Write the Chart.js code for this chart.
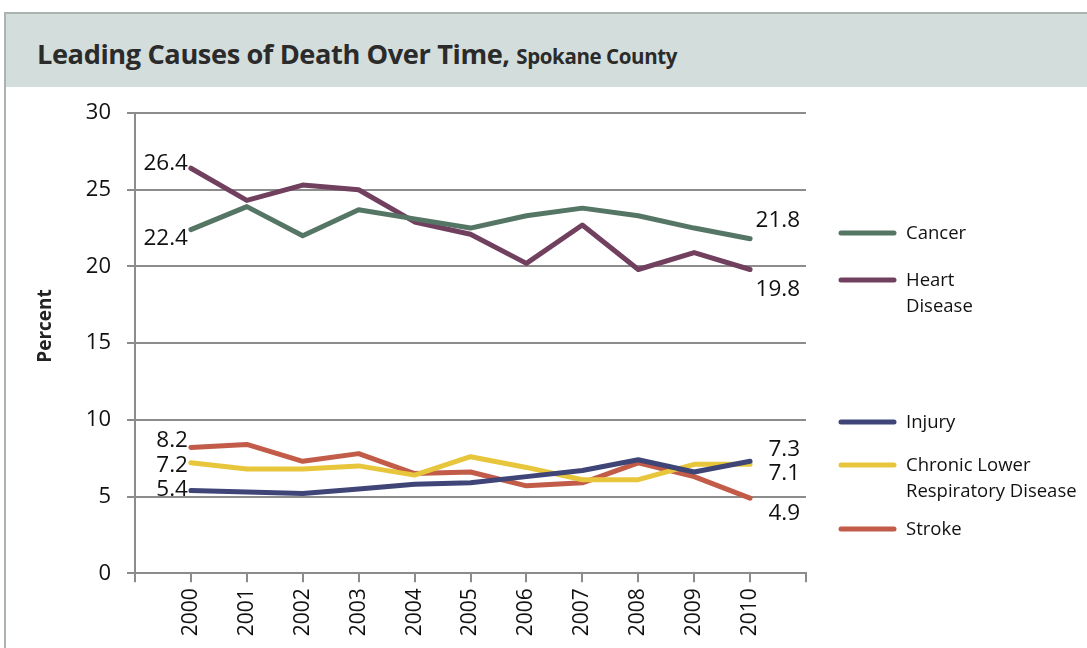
<!DOCTYPE html>
<html>
<head>
<meta charset="utf-8">
<script src="https://cdn.jsdelivr.net/npm/chart.js@4"></script>
<style>
  html, body { margin: 0; padding: 0; background: #fff; }
  #wrap { position: relative; width: 1087px; height: 648px; overflow: hidden; }
  #frame { position: absolute; left: 4px; top: 12px; width: 1100px; height: 700px; border-left: 2px solid #aab3b0; border-top: 2px solid #aab3b0; box-sizing: border-box; }
  #header { position: absolute; left: 6px; top: 14px; width: 1100px; height: 73px; background: #d3dddb; }
  #header h1 { margin: 0; position: absolute; left: 31px; top: 21px; font-family: "Open Sans", sans-serif; font-weight: 700; font-size: 27.2px; color: #2b2b2b; letter-spacing: -0.4px; white-space: nowrap; }
  #header h1 span { font-size: 20.5px; }
  canvas { position: absolute; left: 0; top: 0; }
</style>
</head>
<body>
<div id="wrap">
  <div id="frame"></div>
  <div id="header"><h1>Leading Causes of Death Over Time, <span>Spokane County</span></h1></div>
  <canvas id="chart" width="1087" height="648"></canvas>
</div>
<script>
const years = [2000, 2001, 2002, 2003, 2004, 2005, 2006, 2007, 2008, 2009, 2010];
const seriesNames = ["Cancer", "Heart Disease", "Injury", "Chronic Lower Respiratory Disease", "Stroke"];
const cancer = [22.4, 23.9, 22.0, 23.7, 23.1, 22.5, 23.3, 23.8, 23.3, 22.5, 21.8];
const heart = [26.4, 24.3, 25.3, 25.0, 22.9, 22.1, 20.2, 22.7, 19.8, 20.9, 19.8];
const injury = [5.4, 5.3, 5.2, 5.5, 5.8, 5.9, 6.3, 6.7, 7.4, 6.6, 7.3];
const clrd = [7.2, 6.8, 6.8, 7.0, 6.4, 7.6, 6.9, 6.1, 6.1, 7.1, 7.1];
const stroke = [8.2, 8.4, 7.3, 7.8, 6.5, 6.6, 5.7, 5.9, 7.2, 6.3, 4.9];
const yTicks = [0, 5, 10, 15, 20, 25, 30];

const colors = ["#557665", "#71405f", "#3f4577", "#e8c63c", "#c25b48"];
// label offsets (first point, last point) in px, and legend lines
const endLabelDy = [[9, -18], [-5, 20], [-1, -12], [3, 9], [-7, 15]];
const legendRows = [
  { y: 233, lines: ["Cancer"] },
  { y: 280, lines: ["Heart", "Disease"] },
  { y: 422, lines: ["Injury"] },
  { y: 465, lines: ["Chronic Lower", "Respiratory Disease"] },
  { y: 529, lines: ["Stroke"] }
];

const allSeries = [cancer, heart, injury, clrd, stroke];
const FONT = "'Open Sans', 'Liberation Sans', sans-serif";

const endLabels = {
  id: "endLabels",
  afterDatasetsDraw(chart) {
    const ctx = chart.ctx;
    const xs = chart.scales.x, ys = chart.scales.y;
    ctx.save();
    ctx.font = "22.5px " + FONT;
    ctx.fillStyle = "#111";
    ctx.textBaseline = "middle";
    allSeries.forEach((vals, i) => {
      const first = vals[0], last = vals[vals.length - 1];
      ctx.textAlign = "right";
      ctx.fillText(first.toFixed(1), xs.getPixelForValue(years[0]) - 3, ys.getPixelForValue(first) + endLabelDy[i][0]);
      ctx.fillText(last.toFixed(1), xs.getPixelForValue(years[years.length - 1]) + 50, ys.getPixelForValue(last) + endLabelDy[i][1]);
    });
    ctx.restore();
  }
};

const sideLegend = {
  id: "sideLegend",
  afterDraw(chart) {
    const ctx = chart.ctx;
    ctx.save();
    ctx.lineWidth = 5;
    ctx.lineCap = "round";
    ctx.font = "18.5px " + FONT;
    ctx.fillStyle = "#111";
    ctx.textBaseline = "middle";
    ctx.textAlign = "left";
    legendRows.forEach((row, i) => {
      ctx.strokeStyle = colors[i];
      ctx.beginPath();
      ctx.moveTo(841, row.y);
      ctx.lineTo(894, row.y);
      ctx.stroke();
      row.lines.forEach((t, k) => ctx.fillText(t, 906, row.y + 1 + k * 26));
    });
    // y axis title
    ctx.font = "bold 19px " + FONT;
    ctx.fillStyle = "#222";
    ctx.textAlign = "center";
    ctx.translate(46, 326);
    ctx.rotate(-Math.PI / 2);
    ctx.fillText("Percent", 0, 0);
    ctx.restore();
  }
};

new Chart(document.getElementById("chart"), {
  type: "line",
  data: {
    datasets: allSeries.map((vals, i) => ({
      label: seriesNames[i],
      data: years.map((yr, k) => ({ x: yr, y: vals[k] })),
      borderColor: colors[i],
      backgroundColor: colors[i],
      borderWidth: 5,
      pointRadius: 0,
      tension: 0,
      borderCapStyle: "round",
      borderJoinStyle: "round"
    }))
  },
  options: {
    responsive: false,
    animation: false,
    layout: { padding: { left: 30, top: 113, right: 281, bottom: 0 } },
    plugins: { legend: { display: false }, tooltip: { enabled: false } },
    scales: {
      x: {
        type: "linear",
        min: 1999,
        max: 2011,
        afterBuildTicks: s => { s.ticks = []; for (let v = 1999; v <= 2011; v++) s.ticks.push({ value: v }); },
        afterFit: s => { s.height = 648 - 573.3; },
        grid: { drawOnChartArea: false, drawTicks: true, tickLength: 9, color: "#8c8c8c", lineWidth: 2 },
        border: { display: true, color: "#8c8c8c", width: 2 },
        ticks: {
          autoSkip: false,
          maxRotation: 90,
          minRotation: 90,
          padding: 6,
          color: "#111",
          font: { family: FONT, size: 21 },
          callback: v => (v === 1999 || v === 2011) ? "" : String(v)
        }
      },
      y: {
        min: 0,
        max: 30,
        afterBuildTicks: s => { s.ticks = yTicks.map(v => ({ value: v })); },
        afterFit: s => { s.width = 105; },
        grid: { color: "#8c8c8c", lineWidth: 2, tickLength: 8 },
        border: { display: true, color: "#8c8c8c", width: 2 },
        ticks: { padding: 16, color: "#111", font: { family: FONT, size: 22 } }
      }
    }
  },
  plugins: [endLabels, sideLegend]
});
</script>
</body>
</html>
